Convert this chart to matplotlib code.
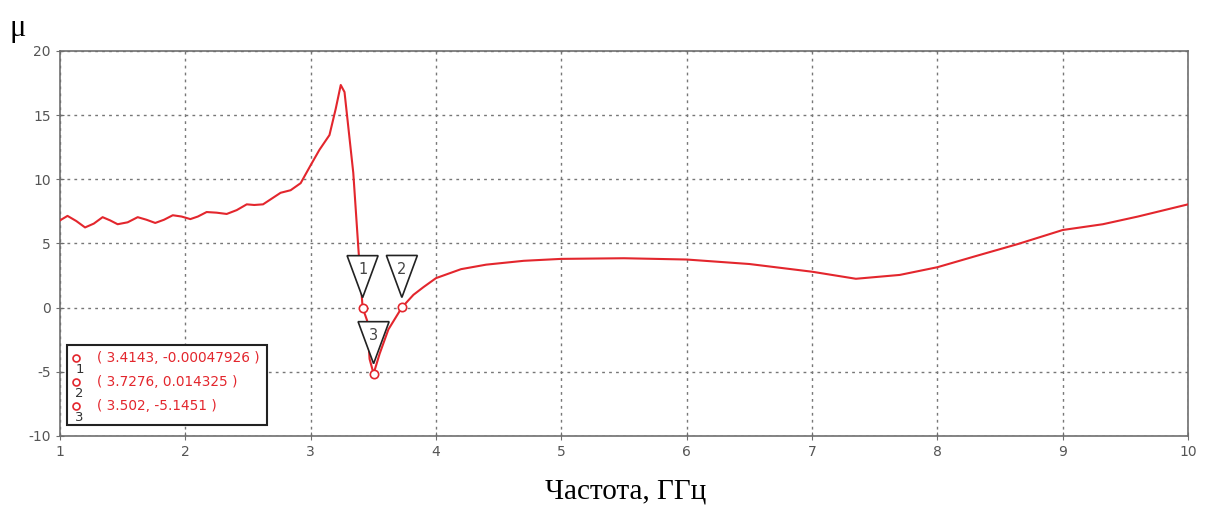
import matplotlib
matplotlib.use("Agg")
import matplotlib.pyplot as plt
from matplotlib.patches import Polygon, Rectangle
from matplotlib.transforms import ScaledTranslation

plt.rcParams["axes.unicode_minus"] = False

# curve
freq = [1.00, 1.06, 1.13, 1.20, 1.27, 1.34, 1.40, 1.46, 1.54, 1.62, 1.69, 1.76,
        1.83, 1.90, 1.97, 2.04, 2.10, 2.17, 2.25, 2.33, 2.41, 2.49, 2.55, 2.62,
        2.69, 2.76, 2.84, 2.92, 3.00, 3.07, 3.15, 3.20, 3.24, 3.27, 3.34, 3.38,
        3.4143, 3.45, 3.47, 3.502, 3.55, 3.62, 3.7276, 3.82, 3.90, 4.00, 4.2,
        4.4, 4.7, 5.0, 5.5, 6.0, 6.5, 7.0, 7.35, 7.7, 8.0, 8.3, 8.64, 9.0, 9.32,
        9.6, 10.0]
mu = [6.8, 7.15, 6.75, 6.25, 6.55, 7.05, 6.8, 6.5, 6.65, 7.05, 6.85, 6.6,
      6.85, 7.2, 7.1, 6.9, 7.1, 7.45, 7.4, 7.3, 7.6, 8.05, 8.0, 8.05,
      8.5, 8.95, 9.15, 9.7, 11.1, 12.3, 13.45, 15.5, 17.35, 16.8, 10.5, 4.7,
      0.0, -1.0, -4.0, -5.145, -3.6, -1.7, 0.014, 1.0, 1.6, 2.3, 3.0,
      3.35, 3.65, 3.8, 3.85, 3.75, 3.4, 2.8, 2.25, 2.55, 3.15, 4.0, 4.95, 6.05, 6.5,
      7.1, 8.05]

# markers
mk_x = [3.4143, 3.7276, 3.502]
mk_y = [-0.00047926, 0.014325, -5.1451]
mk_lbl = ["1", "2", "3"]

x_ticks = list(range(1, 11))
y_ticks = [-10, -5, 0, 5, 10, 15, 20]

red = "#e3262d"
gray = "#6e6e6e"

fig = plt.figure(figsize=(12.07, 5.14), dpi=100)
ax = fig.add_axes([0.0497, 0.1518, 0.9346, 0.749])

ax.plot(freq, mu, color=red, lw=1.5, zorder=3)
ax.plot(mk_x, mk_y, "o", ms=6, mfc="white", mec=red, mew=1.2, zorder=4)

# triangle flags above each marker
for x, y, lbl in zip(mk_x, mk_y, mk_lbl):
    tr = fig.dpi_scale_trans + ScaledTranslation(x, y, ax.transData)
    tri = Polygon([(-0.155, 0.52), (0.155, 0.52), (0.0, 0.10)], closed=True,
                  facecolor="white", edgecolor="#222222", lw=1.2,
                  transform=tr, zorder=5)
    ax.add_patch(tri)
    ax.text(0.0, 0.38, lbl, transform=tr, ha="center", va="center",
            fontsize=10.5, color="#444444", zorder=6)

ax.set_xlim(1, 10)
ax.set_ylim(-10, 20)
ax.set_xticks(x_ticks)
ax.set_yticks(y_ticks)
ax.grid(True, color="#777777", lw=1.0, linestyle=(0, (2, 3)))
ax.tick_params(direction="inout", length=6, color=gray, labelcolor="#555555",
               labelsize=10)
for sp in ax.spines.values():
    sp.set_color(gray)
    sp.set_linewidth(1.2)

# marker readout box
box = Rectangle((0.0062, 0.0286), 0.1773, 0.2078, transform=ax.transAxes,
                facecolor="white", edgecolor="#222222", lw=1.5, zorder=6)
ax.add_patch(box)
for i, (x, y, lbl) in enumerate(zip(mk_x, mk_y, mk_lbl)):
    yy = 0.203 - i * 0.0625
    ax.plot([0.0142], [yy], "o", ms=5, mfc="white", mec=red, mew=1.2,
            transform=ax.transAxes, zorder=7)
    ax.text(0.0175, yy - 0.03, lbl, transform=ax.transAxes, fontsize=9.5,
            color="#333333", ha="center", va="center", zorder=7)
    ax.text(0.033, yy, "( {}, {} )".format(x, y), transform=ax.transAxes,
            fontsize=9.8, color=red, ha="left", va="center", zorder=7)

fig.text(0.008, 0.945, "μ", fontsize=22, family="Liberation Serif",
         ha="left", va="center")
fig.text(0.518, 0.043, "Частота, ГГц", fontsize=21, family="Liberation Serif",
         ha="center", va="center")

fig.savefig("out.png", dpi=100)
